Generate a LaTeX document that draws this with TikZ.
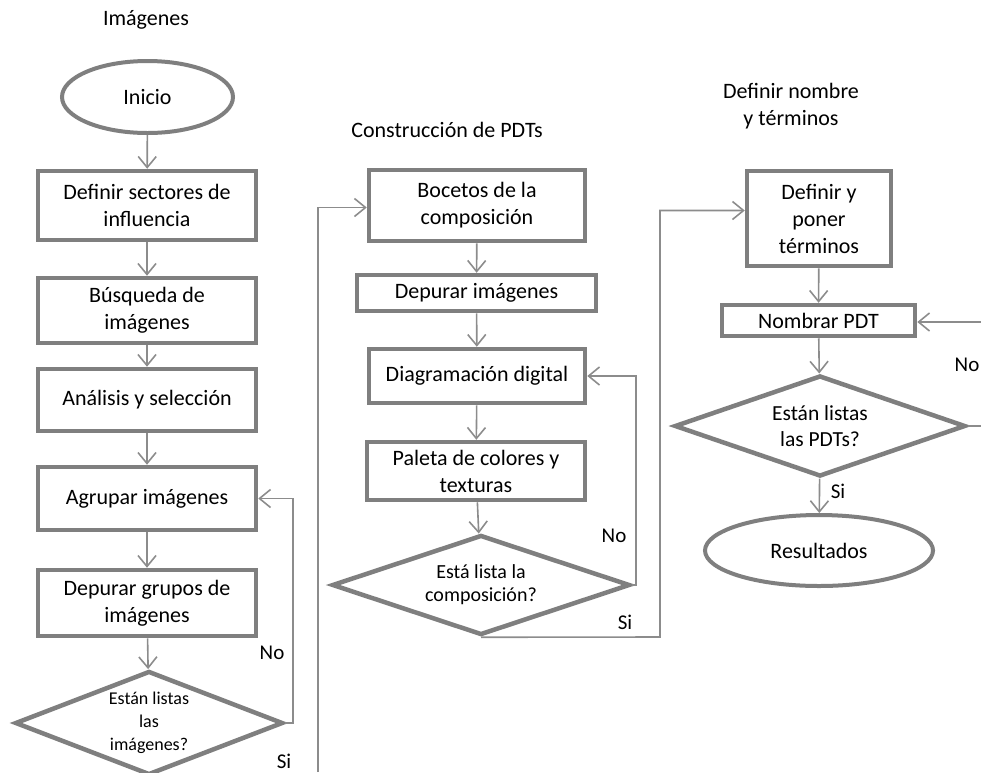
\documentclass[tikz,border=0pt]{standalone}
\usepackage{fontspec}
\setmainfont{Carlito}
\usetikzlibrary{shapes.geometric,arrows.meta}
\definecolor{edgegray}{HTML}{7F7F7F}
\definecolor{linkgray}{HTML}{8C8C8C}

\tikzset{
  procbox/.style={draw=edgegray, line width=4.5pt, fill=white, rectangle,
    inner sep=0pt, align=center, font=\fontsize{22}{27}\selectfont},
  terminal/.style={draw=edgegray, line width=4pt, fill=white, ellipse,
    inner sep=0pt, font=\fontsize{22}{27}\selectfont},
  decision/.style={draw=edgegray, line width=4.5pt, fill=white, diamond,
    shape aspect=2.5, inner sep=0pt, align=center},
  heading/.style={align=center, font=\fontsize{22}{27}\selectfont},
  answer/.style={font=\fontsize{21}{25}\selectfont},
  link/.style={draw=linkgray, line width=1.6pt},
  flow/.style={link, -{Straight Barb[length=11pt,width=18pt,line width=1.6pt]}},
}

\begin{document}
\begin{tikzpicture}[x=1pt,y=-1pt]
\useasboundingbox (0,0) rectangle (981,772);
\clip (0,0) rectangle (981,772);

% column headings
\node[heading] (hImg) at (146,20) {Imágenes};
\node[heading] (hPdt) at (447,130) {Construcción de PDTs};
\node[heading] (hNom) at (791,106) {Definir nombre\\y términos};

% first column: images
\node[terminal, minimum width=171, minimum height=72] (inicio) at (147.5,97) {Inicio};
\node[procbox, minimum width=218, minimum height=69] (sect) at (147,205.5) {Definir sectores de\\influencia};
\node[procbox, minimum width=218, minimum height=65] (busq) at (147,310.5) {Búsqueda de\\imágenes};
\node[procbox, minimum width=218, minimum height=62] (anal) at (147,400) {Análisis y selección};
\node[procbox, minimum width=218, minimum height=63] (agru) at (147,498.5) {Agrupar imágenes};
\node[procbox, minimum width=218, minimum height=66] (depg) at (147,603) {Depurar grupos de\\imágenes};
\node[decision, minimum width=268, minimum height=104,
      font=\fontsize{18}{23}\selectfont] (listImg) at (149,723) {Están listas\\las\\imágenes?};

% second column: building the PDTs
\node[procbox, minimum width=216, minimum height=71] (boce) at (477,205.5) {Bocetos de la\\composición};
\node[procbox, minimum width=239, minimum height=36] (depi) at (476.5,293) {Depurar imágenes};
\node[procbox, minimum width=216, minimum height=54] (diag) at (477,376) {Diagramación digital};
\node[procbox, minimum width=218, minimum height=58] (pale) at (476,471) {Paleta de colores y\\texturas};
\node[decision, minimum width=298, minimum height=100,
      font=\fontsize{20}{23}\selectfont] (listComp) at (481,585) {Está lista la\\composición?};

% third column: names and terms
\node[procbox, minimum width=144, minimum height=95] (term) at (819,218.5) {Definir y\\poner\\términos};
\node[procbox, minimum width=193, minimum height=31] (nomb) at (818.5,320.5) {Nombrar PDT};
\node[decision, minimum width=291, minimum height=101,
      font=\fontsize{21.5}{26}\selectfont] (listPdt) at (820,426) {Están listas\\las PDTs?};
\node[terminal, minimum width=228, minimum height=71] (resu) at (819,550.5) {Resultados};

% loose ends at the border
\coordinate (inLeft) at (318,772);
\coordinate (cornerMid) at (660,637);
\coordinate (inRight) at (981,322);
\coordinate (outRight) at (981,426);

% main flow, first column
\draw[flow] (inicio) -- (sect);
\draw[flow] (sect) -- (busq);
\draw[flow] (busq) -- (anal);
\draw[flow] (anal) -- (agru);
\draw[flow] (agru) -- (depg);
\draw[flow] (depg) -- (listImg);
\draw[flow] (listImg.east) -- ++(8,0) |- (agru.east);

% main flow, second column
\draw[flow] (inLeft) |- ([yshift=-2pt]boce.west);
\draw[flow] (boce) -- (depi);
\draw[flow] (depi) -- (diag);
\draw[flow] (diag) -- (pale);
\draw[flow] (pale) -- (listComp);
\draw[flow] (listComp.east) -- ++(4,0) |- (diag.east);
\draw[flow] (listComp.south) -- (cornerMid) |- ([yshift=8pt]term.west);

% main flow, third column
\draw[flow] (term) -- (nomb);
\draw[flow] (nomb) -- (listPdt);
\draw[flow] (listPdt) -- (resu);
\draw[flow] (inRight) -- ([yshift=-1.5pt]nomb.east);
\draw[link] (listPdt.east) -- (outRight);

% branch answers
\node[answer] (noImg) at (272,653) {No};
\node[answer] (siImg) at (284,761) {Si};
\node[answer] (noComp) at (614,536) {No};
\node[answer] (siComp) at (625,622) {Si};
\node[answer] (noPdt) at (967,365) {No};
\node[answer] (siPdt) at (838,491) {Si};
\end{tikzpicture}
\end{document}
